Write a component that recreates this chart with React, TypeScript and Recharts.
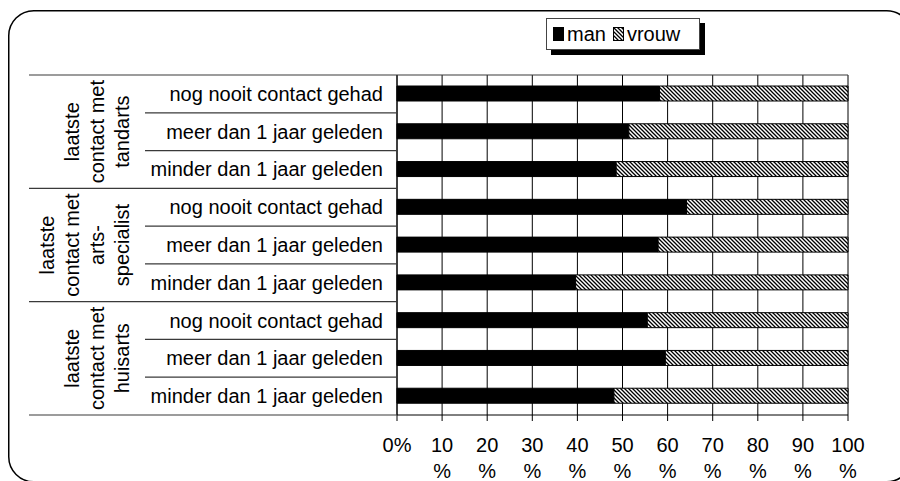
import React from "react";
import { Bar, BarChart, CartesianGrid, XAxis, YAxis } from "recharts";

const rowLabels = [
  "nog nooit contact gehad",
  "meer dan 1 jaar geleden",
  "minder dan 1 jaar geleden",
  "nog nooit contact gehad",
  "meer dan 1 jaar geleden",
  "minder dan 1 jaar geleden",
  "nog nooit contact gehad",
  "meer dan 1 jaar geleden",
  "minder dan 1 jaar geleden",
];
const groupLabels = [
  ["laatste", "contact met", "tandarts"],
  ["laatste", "contact met", "arts-", "specialist"],
  ["laatste", "contact met", "huisarts"],
];
const seriesNames = ["man", "vrouw"];
const man = [58.2, 51.4, 48.6, 64.2, 57.9, 39.6, 55.5, 59.5, 48.1];
const vrouw = [41.8, 48.6, 51.4, 35.8, 42.1, 60.4, 44.5, 40.5, 51.9];
const xTicks = [0, 10, 20, 30, 40, 50, 60, 70, 80, 90, 100];

const data = rowLabels.map((label, i) => ({
  id: `${Math.floor(i / 3)}-${label}`,
  man: man[i],
  vrouw: vrouw[i],
}));

const W = 900;
const H = 481;
const M = { top: 75, right: 52, left: 0, bottom: 0 };
const Y_W = 397;
const X_H = 66;
const ROW_H = (H - M.top - M.bottom - X_H) / rowLabels.length;
const FONT = "'Liberation Sans', Arial, sans-serif";
const LINE = "#3a3a3a";

function RowTick(props: any) {
  const { y, payload } = props;
  const i = payload.index ?? props.index;
  const half = ROW_H / 2;
  const lastInGroup = i % 3 === 2;
  const g = Math.floor(i / 3);
  const lines = groupLabels[g];
  return (
    <g fontFamily={FONT} fontSize={20} fill="#000">
      {i === 0 && <line x1={29} x2={W - M.right} y1={y - half} y2={y - half} stroke={LINE} strokeWidth={1.2} />}
      <line x1={lastInGroup ? 29 : 145} x2={Y_W} y1={y + half} y2={y + half} stroke={LINE} strokeWidth={1.2} />
      <text x={383} y={y} dy="0.35em" textAnchor="end" fill="#000">
        {rowLabels[i]}
      </text>
      {i % 3 === 1 &&
        lines.map((t, k) => {
          const bx = 129 - (lines.length - 1 - k) * 25;
          return (
            <text key={k} x={bx} y={y} textAnchor="middle" transform={`rotate(-90, ${bx}, ${y})`} fill="#000">
              {t}
            </text>
          );
        })}
    </g>
  );
}

function PctTick(props: any) {
  const { x, y, payload } = props;
  const v = payload.value;
  return (
    <g fontFamily={FONT} fontSize={20} fill="#000">
      {v === 0 ? (
        <text x={x} y={y + 30.5} textAnchor="middle" fill="#000">{`${v}%`}</text>
      ) : (
        <text x={x} y={y + 30.5} textAnchor="middle" fill="#000">
          <tspan x={x}>{v}</tspan>
          <tspan x={x} dy={26.5}>%</tspan>
        </text>
      )}
    </g>
  );
}

function Swatch({ fill }: { fill: string }) {
  return (
    <svg width={11} height={14} style={{ display: "block" }}>
      <rect x={0.5} y={0.5} width={10} height={13} fill={fill} stroke="#000" strokeWidth={1} />
    </svg>
  );
}

export default function App() {
  const fills = ["#000", "url(#hatch)"];
  return (
    <div style={{ position: "absolute", left: 0, top: 0, width: W, height: H, overflow: "hidden", background: "#fff" }}>
      <svg width={0} height={0} style={{ position: "absolute" }}>
        <defs>
          <pattern id="hatch" patternUnits="userSpaceOnUse" width={4} height={4}>
            <rect width={4} height={4} fill="#fff" />
            <path d="M-1,-1 L5,5 M-1,3 L1,5 M3,-1 L5,1" stroke="#000" strokeWidth={1.3} />
          </pattern>
        </defs>
      </svg>
      <BarChart width={W} height={H} data={data} layout="vertical" margin={M} barSize={15}>
        <CartesianGrid horizontal={false} stroke="#000" strokeWidth={1} />
        <XAxis
          type="number"
          domain={[0, 100]}
          ticks={xTicks}
          interval={0}
          height={X_H}
          tickSize={6}
          tickMargin={0}
          axisLine={{ stroke: "#000" }}
          tickLine={{ stroke: "#000" }}
          tick={<PctTick />}
        />
        <YAxis
          type="category"
          dataKey="id"
          width={Y_W}
          interval={0}
          tickLine={false}
          tickSize={0}
          axisLine={{ stroke: "#000" }}
          tick={<RowTick />}
        />
        <Bar dataKey="man" name="man" stackId="a" fill="#000" stroke="#000" strokeWidth={1} isAnimationActive={false} />
        <Bar dataKey="vrouw" name="vrouw" stackId="a" fill="url(#hatch)" stroke="#000" strokeWidth={1} isAnimationActive={false} />
      </BarChart>
      <div
        style={{
          position: "absolute",
          left: 546,
          top: 18,
          width: 154,
          height: 32,
          boxSizing: "border-box",
          border: "1px solid #444",
          background: "#fff",
          boxShadow: "5px 5px 0 #000",
          display: "flex",
          alignItems: "center",
          paddingLeft: 6,
          fontFamily: FONT,
          fontSize: 20,
          lineHeight: "20px",
        }}
      >
        {seriesNames.map((n, i) => (
          <div key={n} style={{ display: "flex", alignItems: "center", marginRight: 7 }}>
            <Swatch fill={fills[i]} />
            <span style={{ marginLeft: 3 }}>{n}</span>
          </div>
        ))}
      </div>
      <svg width={W} height={H} style={{ position: "absolute", left: 0, top: 0, pointerEvents: "none" }}>
        <rect x={8.75} y={10.75} width={903} height={471} rx={25} ry={25} fill="none" stroke="#000" strokeWidth={1.5} />
      </svg>
    </div>
  );
}
